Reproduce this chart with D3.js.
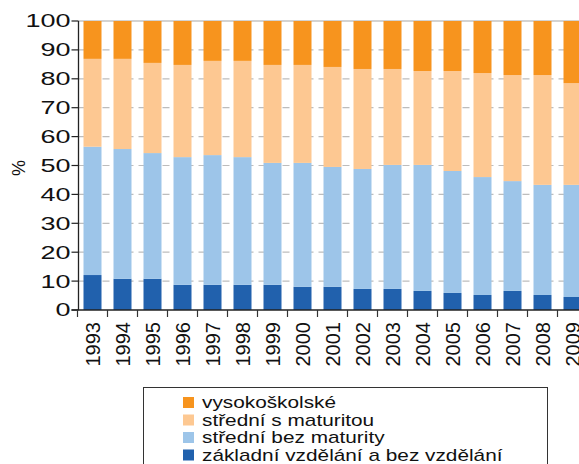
<!DOCTYPE html>
<html>
<head>
<meta charset="utf-8">
<script src="https://cdn.jsdelivr.net/npm/d3@7"></script>
<style>
    body { margin: 0; background: #fff; }
    svg { display: block; font-family: "Liberation Sans", Arial, sans-serif; }
</style>
</head>
<body>
<div id="chart"></div>
<script>
var years = ["1993", "1994", "1995", "1996", "1997", "1998", "1999", "2000", "2001",
    "2002", "2003", "2004", "2005", "2006", "2007", "2008", "2009"];

// shares in %, bottom to top
var zakladni = [12.1, 10.8, 10.8, 8.7, 8.7, 8.7, 8.7, 8.0, 8.0, 7.3, 7.3, 6.6, 5.9, 5.2, 6.6, 5.2, 4.5];
var bezMaturity = [44.4, 44.9, 43.5, 44.2, 44.9, 44.2, 42.2, 42.9, 41.5, 41.5, 42.9, 43.6, 42.2, 40.8, 38.0, 38.1, 38.8];
var sMaturitou = [30.4, 31.2, 31.2, 31.9, 32.6, 33.3, 33.9, 33.9, 34.6, 34.6, 33.2, 32.5, 34.6, 36.0, 36.7, 38.0, 35.2];
var vysokoskolske = [13.1, 13.1, 14.5, 15.2, 13.8, 13.8, 15.2, 15.2, 15.9, 16.6, 16.6, 17.3, 17.3, 18.0, 18.7, 18.7, 21.5];

var seriesNames = ["základní vzdělání a bez vzdělání", "střední bez maturity", "střední s maturitou", "vysokoškolské"];
var yTicks = [0, 10, 20, 30, 40, 50, 60, 70, 80, 90, 100];

var width = 579,
    height = 464;

var colors = ["#2161ad", "#9dc5e9", "#fdc892", "#f7941e"];

var rows = years.map(function (y, i) {
    return { year: y, s0: zakladni[i], s1: bezMaturity[i], s2: sMaturitou[i], s3: vysokoskolske[i] };
});

var stack = d3.stack().keys(["s0", "s1", "s2", "s3"])(rows);

var x = d3.scaleBand()
    .domain(years)
    .range([77.5, 587.5])
    .paddingInner(0.4)
    .paddingOuter(0.2);

var y = d3.scaleLinear()
    .domain([0, 100])
    .range([310, 21]);

var axisX = 78.5;

var svg = d3.select("#chart")
    .append("svg")
    .attr("width", width)
    .attr("height", height);

// grid (dashed, shows between the bars)
svg.append("g")
    .selectAll("line")
    .data(yTicks.filter(function (d) { return d > 0 && d < 100; }))
    .enter().append("line")
    .attr("x1", axisX)
    .attr("x2", width)
    .attr("y1", function (d) { return y(d); })
    .attr("y2", function (d) { return y(d); })
    .attr("stroke", "#bdbdbd")
    .attr("stroke-width", 1.2)
    .attr("stroke-dasharray", "7,5");

svg.append("line")
    .attr("x1", axisX)
    .attr("x2", width)
    .attr("y1", y(100))
    .attr("y2", y(100))
    .attr("stroke", "#c4c4c4")
    .attr("stroke-width", 1.5);

// bars
svg.append("g")
    .selectAll("g")
    .data(stack)
    .enter().append("g")
    .attr("fill", function (d, i) { return colors[i]; })
    .selectAll("rect")
    .data(function (d) { return d; })
    .enter().append("rect")
    .attr("x", function (d) { return x(d.data.year); })
    .attr("width", x.bandwidth())
    .attr("y", function (d) { return y(d[1]); })
    .attr("height", function (d) { return y(d[0]) - y(d[1]); });

// y axis
var gy = svg.append("g").attr("transform", "translate(" + axisX + ",0)");
gy.append("line")
    .attr("y1", y(100))
    .attr("y2", y(0))
    .attr("stroke", "#222")
    .attr("stroke-width", 1.3);
gy.selectAll(".tick")
    .data(yTicks)
    .enter().append("line")
    .attr("x1", -7)
    .attr("x2", 0)
    .attr("y1", function (d) { return y(d); })
    .attr("y2", function (d) { return y(d); })
    .attr("stroke", "#222")
    .attr("stroke-width", 1.2);
gy.selectAll("text")
    .data(yTicks)
    .enter().append("text")
    .attr("transform", function (d) {
        return "translate(-8," + y(d) + ") scale(1.5,1)";
    })
    .attr("dy", "0.36em")
    .attr("text-anchor", "end")
    .style("font-size", "18px")
    .attr("fill", "#111")
    .text(function (d) { return d; });

svg.append("text")
    .attr("transform", "translate(19,168) rotate(-90)")
    .attr("dy", "0.36em")
    .attr("text-anchor", "middle")
    .style("font-size", "18px")
    .attr("fill", "#111")
    .text("%");

// x axis
var gx = svg.append("g").attr("transform", "translate(0," + y(0) + ")");
gx.append("line")
    .attr("x1", axisX - 7)
    .attr("x2", width)
    .attr("stroke", "#222")
    .attr("stroke-width", 1.3);
gx.selectAll(".tick")
    .data(d3.range(years.length + 1))
    .enter().append("line")
    .attr("x1", function (i) { return x.range()[0] + i * x.step(); })
    .attr("x2", function (i) { return x.range()[0] + i * x.step(); })
    .attr("y1", 0)
    .attr("y2", 7)
    .attr("stroke", "#333")
    .attr("stroke-width", 1.2);
gx.selectAll("text")
    .data(years)
    .enter().append("text")
    .attr("transform", function (d) {
        return "translate(" + (x(d) + x.bandwidth() / 2) + ",12) rotate(-90)";
    })
    .attr("dy", "0.36em")
    .attr("text-anchor", "end")
    .style("font-size", "20px")
    .attr("fill", "#111")
    .text(function (d) { return d; });

// legend
var legend = svg.append("g");
legend.append("rect")
    .attr("x", 143.5)
    .attr("y", 387.5)
    .attr("width", 404)
    .attr("height", 100)
    .attr("fill", "none")
    .attr("stroke", "#333")
    .attr("stroke-width", 1);

var items = legend.selectAll(".item")
    .data(d3.range(seriesNames.length).reverse())
    .enter().append("g")
    .attr("transform", function (d, i) { return "translate(183," + (397 + i * 17.5) + ")"; });

items.append("rect")
    .attr("width", 11)
    .attr("height", 11)
    .attr("fill", function (d) { return colors[d]; });

items.append("text")
    .attr("transform", "translate(19,11) scale(1.3,1)")
    .style("font-size", "16px")
    .attr("fill", "#111")
    .text(function (d) { return seriesNames[d]; });
</script>
</body>
</html>
